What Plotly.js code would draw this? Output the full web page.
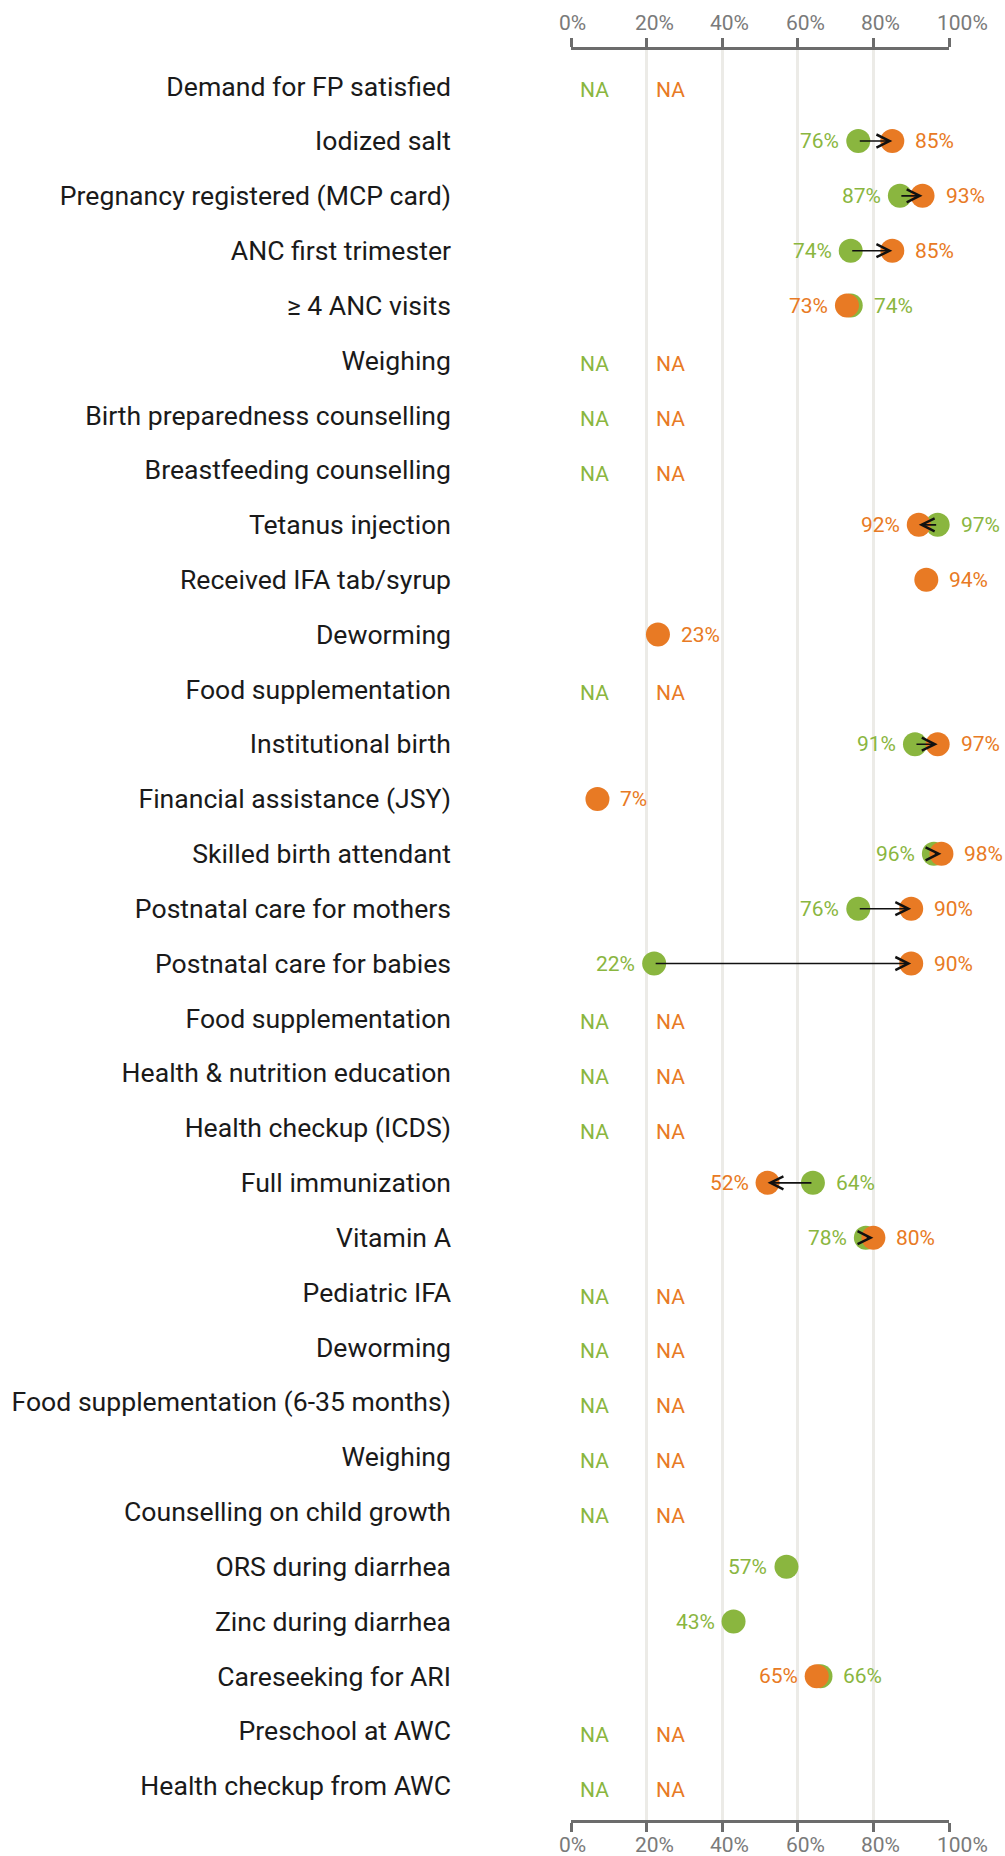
<!DOCTYPE html>
<html>
<head>
<meta charset="utf-8">
<script src="https://cdn.plot.ly/plotly-3.0.1.min.js"></script>
<style>
  html, body { margin: 0; padding: 0; background: #ffffff; }
  #chart { width: 1005px; height: 1856px; }
</style>
</head>
<body>
<div id="chart"></div>
<script>
// ---- Data ----
const categories = [
  "Demand for FP satisfied",
  "Iodized salt",
  "Pregnancy registered (MCP card)",
  "ANC first trimester",
  "\u2265 4 ANC visits",
  "Weighing",
  "Birth preparedness counselling",
  "Breastfeeding counselling",
  "Tetanus injection",
  "Received IFA tab/syrup",
  "Deworming",
  "Food supplementation",
  "Institutional birth",
  "Financial assistance (JSY)",
  "Skilled birth attendant",
  "Postnatal care for mothers",
  "Postnatal care for babies",
  "Food supplementation",
  "Health & nutrition education",
  "Health checkup (ICDS)",
  "Full immunization",
  "Vitamin A",
  "Pediatric IFA",
  "Deworming",
  "Food supplementation (6-35 months)",
  "Weighing",
  "Counselling on child growth",
  "ORS during diarrhea",
  "Zinc during diarrhea",
  "Careseeking for ARI",
  "Preschool at AWC",
  "Health checkup from AWC"
];
// earlier survey (green)
const greenValues = [
  null, 76, 87, 74, 74, null, null, null, 97, null, null, null, 91, null, 96, 76,
  22, null, null, null, 64, 78, null, null, null, null, null, 57, 43, 66, null, null
];
// later survey (orange)
const orangeValues = [
  null, 85, 93, 85, 73, null, null, null, 92, 94, 23, null, 97, 7, 98, 90,
  90, null, null, null, 52, 80, null, null, null, null, null, null, null, 65, null, null
];
const tickValues = [0, 20, 40, 60, 80, 100];
const tickLabels = ["0%", "20%", "40%", "60%", "80%", "100%"];
const naText = "NA";

// ---- Style ----
const GREEN = "#8ab63f";
const ORANGE = "#e87a24";
const AXIS = "#6c6c6c";
const GRID = "#ecebe7";
const TICKTXT = "#7a7a7a";
const FONT = "Roboto, 'Noto Sans', sans-serif";

const rows = categories.map((_, i) => i);

const annotations = [];

// axis tick labels (left edge sits slightly before each tick, as in the reference)
tickValues.forEach((v, k) => {
  [{y: 1, yshift: 27}, {y: 0, yshift: -25}].forEach(p => {
    annotations.push({x: v, y: p.y, xref: "x", yref: "paper", text: tickLabels[k],
      showarrow: false, xanchor: "left", yanchor: "middle", xshift: -14, yshift: p.yshift,
      font: {family: FONT, size: 21, color: TICKTXT}});
  });
});

rows.forEach(i => {
  const g = greenValues[i], o = orangeValues[i];
  if (g === null && o === null) {
    annotations.push({x: 0, y: i, xref: "x", yref: "y", text: naText, showarrow: false,
      xanchor: "left", xshift: 7, yshift: -4, font: {family: FONT, size: 21, color: GREEN}});
    annotations.push({x: 20, y: i, xref: "x", yref: "y", text: naText, showarrow: false,
      xanchor: "left", xshift: 7, yshift: -4, font: {family: FONT, size: 21, color: ORANGE}});
    return;
  }
  if (g !== null && o !== null) {
    annotations.push({x: o, y: i, ax: g, ay: i, xref: "x", yref: "y", axref: "x", ayref: "y",
      text: "", showarrow: true, arrowhead: 5, arrowsize: 1.6, arrowwidth: 1.6,
      arrowcolor: "#111111", standoff: 0, startstandoff: 0});
  }
  const addLabel = (v, color, side) => {
    annotations.push({x: v, y: i, xref: "x", yref: "y", text: v + "%", showarrow: false,
      xanchor: side === "left" ? "right" : "left", xshift: side === "left" ? -17 : 21,
      font: {family: FONT, size: 21, color: color}});
  };
  if (g !== null && o !== null) {
    if (g <= o) { addLabel(g, GREEN, "left"); addLabel(o, ORANGE, "right"); }
    else { addLabel(o, ORANGE, "left"); addLabel(g, GREEN, "right"); }
  } else if (g !== null) {
    addLabel(g, GREEN, "left");
  } else {
    addLabel(o, ORANGE, "right");
  }
});

const traces = [
  {type: "scatter", mode: "markers", x: greenValues, y: rows, xaxis: "x", yaxis: "y",
   marker: {size: 24, color: GREEN}, hoverinfo: "skip", cliponaxis: false},
  {type: "scatter", mode: "markers", x: orangeValues, y: rows, xaxis: "x", yaxis: "y",
   marker: {size: 24, color: ORANGE}, hoverinfo: "skip", cliponaxis: false},
  {type: "scatter", mode: "markers", x: [null], y: [null], xaxis: "x2", yaxis: "y",
   marker: {opacity: 0}, hoverinfo: "skip"}
];

const xCommon = {
  range: [0, 100], tickvals: tickValues, ticktext: tickLabels, showticklabels: false,
  showline: true, linecolor: AXIS, linewidth: 3,
  ticks: "outside", ticklen: 9, tickwidth: 3, tickcolor: AXIS,
  showgrid: true, gridcolor: GRID, gridwidth: 3, zeroline: false,
  fixedrange: true
};

const layout = {
  width: 1005, height: 1856,
  margin: {l: 571, r: 56, t: 50, b: 36},
  paper_bgcolor: "#ffffff", plot_bgcolor: "#ffffff",
  showlegend: false,
  font: {family: FONT},
  xaxis: Object.assign({}, xCommon, {side: "bottom", anchor: "y"}),
  xaxis2: Object.assign({}, xCommon, {side: "top", overlaying: "x", anchor: "y", showgrid: false}),
  yaxis: {
    range: [31.62, -0.66], tickvals: rows, ticktext: categories,
    showgrid: false, zeroline: false, showline: false, ticks: "",
    tickfont: {family: FONT, size: 26.6, color: "#1a1a1a"},
    ticklabelstandoff: 119, automargin: false, fixedrange: true
  },
  annotations: annotations
};

Plotly.newPlot("chart", traces, layout, {staticPlot: true, displayModeBar: false});
</script>
</body>
</html>
